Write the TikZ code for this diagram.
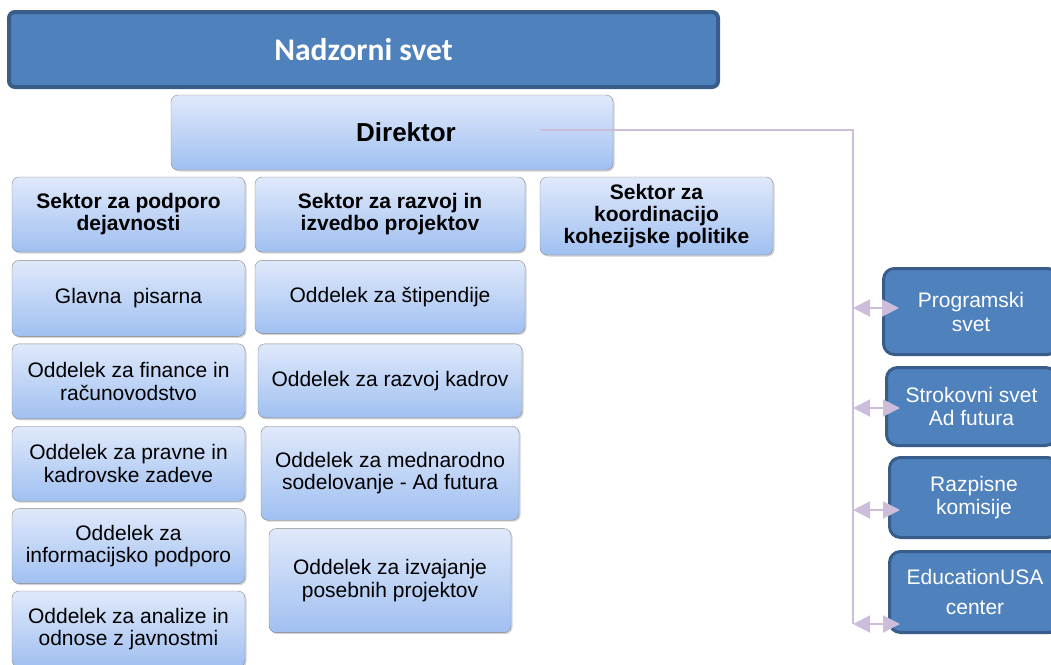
\documentclass[tikz,border=0pt]{standalone}
\usepackage{fontspec}
\setmainfont{Liberation Sans}
\newfontfamily\calibri{Carlito}
\usetikzlibrary{positioning, arrows.meta, shadows}
\definecolor{boxtop}{RGB}{224,233,251}
\definecolor{boxbottom}{RGB}{160,192,241}
\definecolor{boxline}{RGB}{135,135,135}
\definecolor{darkfill}{RGB}{79,129,189}
\definecolor{darkline}{RGB}{56,93,138}
\definecolor{linkcol}{RGB}{204,190,218}
\tikzset {
    unit/.style={draw=boxline, rounded corners=7pt, top color=boxtop, bottom color=boxbottom,
        drop shadow={opacity=0.35, shadow xshift=1.5pt, shadow yshift=-1.5pt},
        align=center, inner sep=2pt, font=\fontsize{21}{22.5}\selectfont},
    sector/.style={unit, font=\fontsize{21}{22}\selectfont\bfseries},
    council/.style={draw=darkline, line width=3pt, rounded corners=11pt, fill=darkfill,
        text=white, align=center, font=\fontsize{21}{23}\selectfont},
    link/.style={draw=linkcol, line width=2pt},
    dlink/.style={link, {Triangle[length=17pt,width=17pt]}-{Triangle[length=17pt,width=17pt]}}
}
\begin{document}
\begin{tikzpicture}[x=1pt, y=-1pt]
    \useasboundingbox (0,0) rectangle (1051,664);

    % top
    \node[draw=darkline, line width=4pt, rounded corners=6pt, fill=darkfill, text=white,
        minimum width=709pt, minimum height=75pt, font=\calibri\bfseries\fontsize{31.5}{33}\selectfont]
        (board) at (363.5,49.5) {Nadzorni svet};
    \node[unit, minimum width=442pt, minimum height=75pt, font=\fontsize{26}{28}\selectfont\bfseries]
        (dir) at (392,132.5) {\hspace{28pt}Direktor};

    % sectors
    \node[sector, minimum width=233pt, minimum height=75pt] (sup) at (128.5,214.5) {Sektor za podporo\\dejavnosti};
    \node[sector, minimum width=270pt, minimum height=75pt] (proj) at (390,214.5) {Sektor za razvoj in\\izvedbo projektov};
    \node[sector, minimum width=233pt, minimum height=78pt] (koh) at (656.5,216) {Sektor za\\koordinacijo\\kohezijske politike};

    % first column
    \node[unit, minimum width=233pt, minimum height=76pt, below=8pt of sup] (gp) {Glavna \ pisarna};
    \node[unit, minimum width=233pt, minimum height=75pt, below=7pt of gp] (fin) {Oddelek za finance in\\računovodstvo};
    \node[unit, minimum width=233pt, minimum height=75pt, below=7pt of fin] (prav) {Oddelek za pravne in\\kadrovske zadeve};
    \node[unit, minimum width=233pt, minimum height=75pt, below=7pt of prav] (info) {Oddelek za\\informacijsko podporo};
    \node[unit, minimum width=233pt, minimum height=76pt, below=7pt of info] (anal) {Oddelek za analize in\\odnose z javnostmi};

    % second column
    \node[unit, minimum width=270pt, minimum height=73pt, below=8pt of proj] (stip) {Oddelek za štipendije};
    \node[unit, minimum width=264pt, minimum height=74pt, below=10pt of stip] (kadr) {Oddelek za razvoj kadrov};
    \node[unit, minimum width=258pt, minimum height=94pt, below=8pt of kadr] (medn) {Oddelek za mednarodno\\sodelovanje - Ad futura};
    \node[unit, minimum width=242pt, minimum height=104pt, below=8pt of medn] (izv) {Oddelek za izvajanje\\posebnih projektov};

    % councils
    \node[council, minimum width=175pt, minimum height=86pt] (prog) at (971,311.5) {Programski\\[1pt]svet};
    \node[council, minimum width=170pt, minimum height=78pt] (strok) at (971.5,406.5) {Strokovni svet\\Ad futura};
    \node[council, minimum width=169pt, minimum height=80pt] (razp) at (974,497.5) {Razpisne\\komisije};
    \node[council, minimum width=171pt, minimum height=81pt] (edu) at (975,592) {EducationUSA\\[7pt]center};

    % links
    \coordinate (dirlink) at (540,130);
    \coordinate (trunk) at (853,130);
    \coordinate (t1) at (853,308);
    \coordinate (t2) at (853,408);
    \coordinate (t3) at (853,510);
    \coordinate (t4) at (853,624);
    \draw[link] (dirlink) -- (trunk) -- (t4);
    \draw[dlink] (t1) -- ([xshift=17pt]t1 -| prog.west);
    \draw[dlink] (t2) -- ([xshift=15pt]t2 -| strok.west);
    \draw[dlink] (t3) -- ([xshift=12pt]t3 -| razp.west);
    \draw[dlink] (t4) -- ([xshift=12pt]t4 -| edu.west);
\end{tikzpicture}
\end{document}
